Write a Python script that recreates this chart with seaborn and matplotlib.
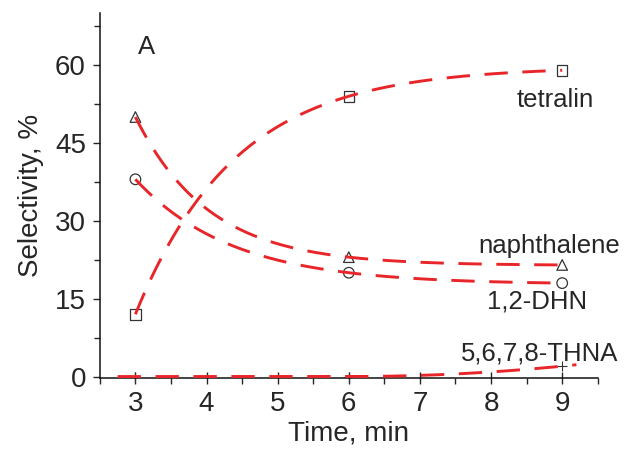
import numpy as np
import pandas as pd
import matplotlib
matplotlib.use('Agg')
import matplotlib.pyplot as plt
from matplotlib.ticker import MultipleLocator
import seaborn as sns

# selectivity (%) vs time (min)
time = [3, 6, 9]
tetralin = [12, 54, 59]
naphthalene = [50, 23, 21.5]
dhn = [38, 20, 18]
thna = [0, 0, 2]

red = '#e8262a'


def exp_fit(y):
    # y = A + B*r**t through three equally spaced points
    r = (y[2] - y[1]) / (y[1] - y[0])
    B = (y[1] - y[0]) / (r - 1)
    A = y[0] - B
    t = np.linspace(0, 2, 200)
    return time[0] + 3 * t, A + B * r ** t


sns.set_style('ticks')
plt.rcParams['font.family'] = ['Liberation Sans', 'DejaVu Sans']

fig = plt.figure(figsize=(6.4, 4.55), dpi=100)
ax = fig.add_axes([0.156, 0.169, 0.778, 0.802])

curves = []
for name, vals in [('tetralin', tetralin), ('naphthalene', naphthalene), ('dhn', dhn)]:
    xs, ys = exp_fit(vals)
    curves.append(pd.DataFrame({'x': xs, 'y': ys, 'series': name}))
# THNA: flat, then rising after 6 min
xs = np.linspace(2.75, 9.2, 200)
ys = thna[2] * np.clip(xs - time[1], 0, None) ** 2 / (time[2] - time[1]) ** 2
curves.append(pd.DataFrame({'x': xs, 'y': ys, 'series': 'thna'}))
curve_df = pd.concat(curves)

for name, g in curve_df.groupby('series'):
    sns.lineplot(data=g, x='x', y='y', ax=ax, color=red, lw=2.1,
                 dashes=False, estimator=None, sort=False, zorder=3)
for line in ax.get_lines():
    line.set_dashes([8, 5])

pts = pd.DataFrame({'x': time * 4,
                    'y': tetralin + naphthalene + dhn + thna,
                    'series': ['tetralin'] * 3 + ['naphthalene'] * 3 + ['dhn'] * 3 + ['thna'] * 3})
markers = {'tetralin': 's', 'naphthalene': '^', 'dhn': 'o', 'thna': '+'}
for name, m in markers.items():
    g = pts[pts.series == name]
    if m == '+':
        ax.scatter(g.x, g.y, marker='+', s=50, color='#333333', lw=0.8, zorder=2, clip_on=False)
    else:
        ax.scatter(g.x, g.y, marker=m, s=58, facecolors='none', edgecolors='#333333',
                   linewidths=0.9, zorder=2, clip_on=False)

ax.set_xlim(2.5, 9.5)
ax.set_ylim(-0.3, 70)
ax.xaxis.set_major_locator(MultipleLocator(1))
ax.xaxis.set_minor_locator(MultipleLocator(0.5))
ax.yaxis.set_major_locator(MultipleLocator(15))
ax.yaxis.set_minor_locator(MultipleLocator(7.5))
ax.tick_params(axis='x', which='major', direction='inout', length=9, width=1, labelsize=20, pad=4.5)
ax.tick_params(axis='x', which='minor', direction='out', length=4, width=1)
ax.tick_params(axis='y', which='major', direction='out', length=5, width=1, labelsize=20, pad=5)
ax.tick_params(axis='y', which='minor', direction='out', length=4, width=1)
for s in ['left', 'bottom']:
    ax.spines[s].set_linewidth(1.1)
    ax.spines[s].set_color('#111111')
sns.despine(ax=ax)

ax.set_xlabel('Time, min', fontsize=20, labelpad=3)
ax.set_ylabel('Selectivity, %', fontsize=20, labelpad=8)

ax.text(3.15, 63.5, 'A', fontsize=18.5, ha='center', va='center')
ax.text(8.9, 53.3, 'tetralin', fontsize=18.5, ha='center', va='center')
ax.text(8.82, 25.2, 'naphthalene', fontsize=18.5, ha='center', va='center')
ax.text(8.65, 14.5, '1,2-DHN', fontsize=18.5, ha='center', va='center')
ax.text(7.58, 4.4, '5,6,7,8-THNA', fontsize=18.5, ha='left', va='center')

fig.savefig('out.png', dpi=100)
